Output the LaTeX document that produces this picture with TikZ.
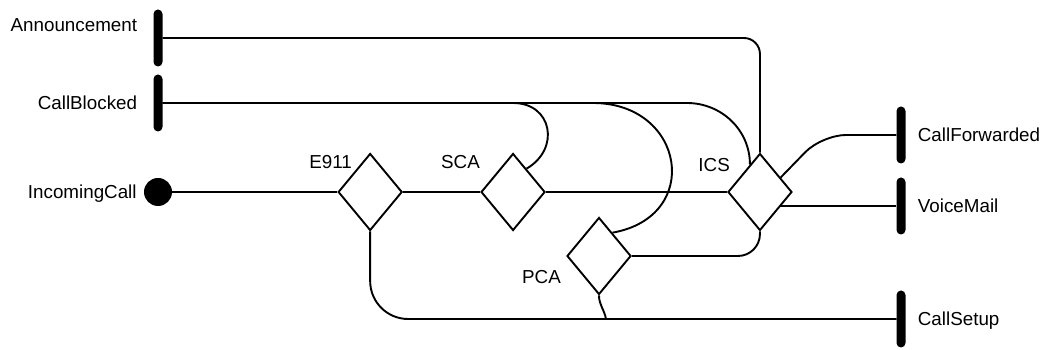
\documentclass[tikz,border=0pt]{standalone}
\usepackage{fontspec}
\setmainfont{Liberation Sans}
\usetikzlibrary{positioning,shapes.geometric,backgrounds}

\begin{document}
\begin{tikzpicture}[
    x=1pt, y=1pt,
    lbl/.style={font=\fontsize{18.8pt}{22pt}\selectfont, inner sep=0pt, text height=13.5pt, text depth=0pt},
    wire/.style={line width=1.9pt},
    choice/.style={diamond, draw, fill=white, line width=1.9pt, minimum width=64pt, minimum height=77pt, inner sep=0pt},
    endbar/.style={rectangle, fill=black, rounded corners=4.5pt, minimum width=9pt, minimum height=57pt, inner sep=0pt},
    startdot/.style={circle, fill=black, minimum size=28pt, inner sep=0pt}
  ]
    \useasboundingbox (0,0) rectangle (1042,350);

    % start point and the four decisions
    \node[startdot, label={[lbl, xshift=-7pt]left:IncomingCall}] (incoming) at (158,158) {};
    \node[choice, right=165pt of incoming] (e911) {};
    \node[choice, right=77pt of e911] (sca) {};
    \node[choice, right=181pt of sca] (ics) {};
    \node[choice] (pca) at (599,94) {};
    \node[lbl, anchor=east] (e911lbl) at (352,188) {E911};
    \node[lbl, anchor=east] (scalbl) at (480,188) {SCA};
    \node[lbl, anchor=east] (icslbl) at (730,185) {ICS};
    \node[lbl, anchor=east] (pcalbl) at (561,73) {PCA};

    % end bars
    \node[endbar, label={[lbl, xshift=-16pt, yshift=13pt]left:Announcement}] (announcement) at (158,312) {};
    \node[endbar, label={[lbl, xshift=-16pt]left:CallBlocked}] (blocked) at (158,247) {};
    \node[endbar, label={[lbl, xshift=12pt]right:CallForwarded}] (forwarded) at (901,215) {};
    \node[endbar, label={[lbl, xshift=12pt]right:VoiceMail}] (voicemail) at (901,144) {};
    \node[endbar, label={[lbl, xshift=12pt]right:CallSetup}] (setup) at (901,31) {};

    % where flows join the shared lines
    \coordinate[xshift=-73pt] (icsjoin) at (ics |- blocked);
    \coordinate[xshift=-6pt] (pcatop) at (pca |- blocked);
    \coordinate[xshift=7pt] (pcajoin) at (pca |- setup);
    \coordinate[xshift=62pt] (fwdbend) at (ics |- forwarded);

    \begin{scope}[on background layer]
      \draw[wire] (incoming) -- (e911);
      \draw[wire] (e911) -- (sca);
      \draw[wire] (sca) -- (ics);
      \draw[wire, rounded corners=38pt] (e911.south) |- (setup);
      \draw[wire] (pca.south) to[out=-90,in=100] (pcajoin) -- (setup);
      \draw[wire, rounded corners=22pt] (ics.south) |- (pca.east);
      \draw[wire, rounded corners=16pt] (ics.north) |- (announcement);
      \draw[wire] (sca.60) to[out=30,in=0,looseness=1.5] (sca |- blocked) -- (blocked);
      \draw[wire] (pca.60) to[out=10,in=0,looseness=1.8] (pcatop) -- (blocked);
      \draw[wire] (ics.110) to[out=90,in=0] (icsjoin) -- (blocked);
      \draw[wire, rounded corners=24pt] (ics.35) -- (fwdbend) -- (forwarded);
      \draw[wire] (ics |- voicemail) -- (voicemail);
    \end{scope}
\end{tikzpicture}
\end{document}
